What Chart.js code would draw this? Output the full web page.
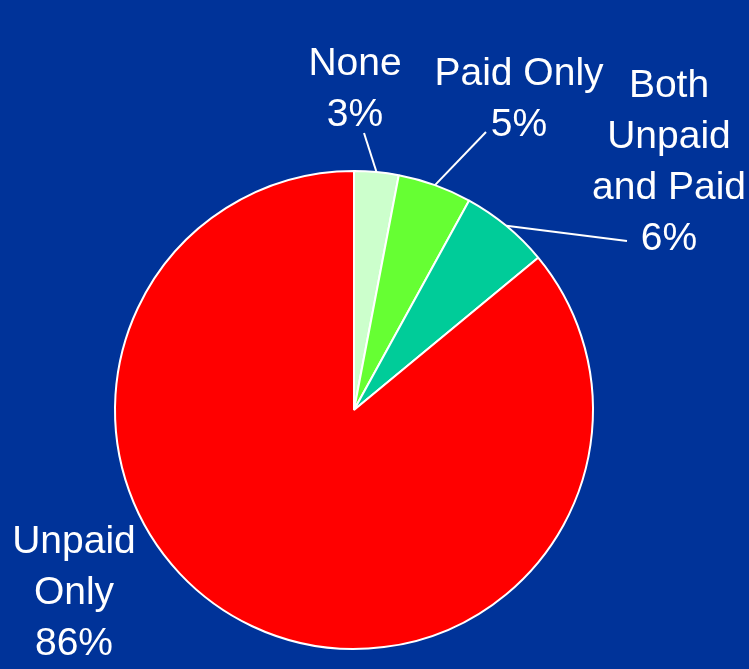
<!DOCTYPE html>
<html>
<head>
    <title>Work experience</title>
    <script src="https://cdn.jsdelivr.net/npm/chart.js"></script>
    <style>
        html, body { margin: 0; padding: 0; background: #003399; }
    </style>
</head>
<body>
    <div style="width:749px; height:669px;">
    <canvas id="myChart" width="749" height="669"></canvas>
    </div>
<script>
    const categories = [['None'], ['Paid Only'], ['Both', 'Unpaid', 'and Paid'], ['Unpaid', 'Only']];
    const shares = [3, 5, 6, 86];
    const colors = ['#ccffcc', '#66ff33', '#00cc99', '#ff0000'];

    // where each label sits (centre x, first baseline y) and where its leader line ends
    const labelSpots = [
        { x: 355, y: 75, lineTo: [364, 133] },
        { x: 519, y: 85, lineTo: [486, 132] },
        { x: 669, y: 97, lineTo: [627, 241] },
        { x: 74, y: 553, lineTo: null }
    ];

    const sliceLabels = {
        id: 'sliceLabels',
        afterDatasetsDraw(chart) {
            const ctx = chart.ctx;
            const arcs = chart.getDatasetMeta(0).data;
            ctx.save();
            ctx.strokeStyle = '#ffffff';
            ctx.fillStyle = '#ffffff';
            ctx.lineWidth = 2;
            ctx.font = '39px "Liberation Sans", Arial, sans-serif';
            ctx.textAlign = 'center';
            ctx.textBaseline = 'alphabetic';
            arcs.forEach((arc, i) => {
                const spot = labelSpots[i];
                const p = arc.getProps(['x', 'y', 'startAngle', 'endAngle', 'outerRadius'], true);
                if (spot.lineTo) {
                    const mid = (p.startAngle + p.endAngle) / 2;
                    ctx.beginPath();
                    ctx.moveTo(p.x + Math.cos(mid) * p.outerRadius, p.y + Math.sin(mid) * p.outerRadius);
                    ctx.lineTo(spot.lineTo[0], spot.lineTo[1]);
                    ctx.stroke();
                }
                const lines = categories[i].concat([shares[i] + '%']);
                lines.forEach((t, k) => ctx.fillText(t, spot.x, spot.y + k * 51));
            });
            ctx.restore();
        }
    };

    const ctx = document.getElementById('myChart').getContext('2d');
    new Chart(ctx, {
        type: 'pie',
        data: {
            labels: categories,
            datasets: [{
                data: shares,
                backgroundColor: colors,
                borderColor: '#ffffff',
                borderWidth: 2
            }]
        },
        options: {
            responsive: false,
            animation: false,
            layout: {
                padding: { left: 114, right: 155, top: 170, bottom: 19 }
            },
            plugins: {
                legend: { display: false },
                tooltip: { enabled: false }
            }
        },
        plugins: [sliceLabels]
    });
</script>
</body>
</html>
